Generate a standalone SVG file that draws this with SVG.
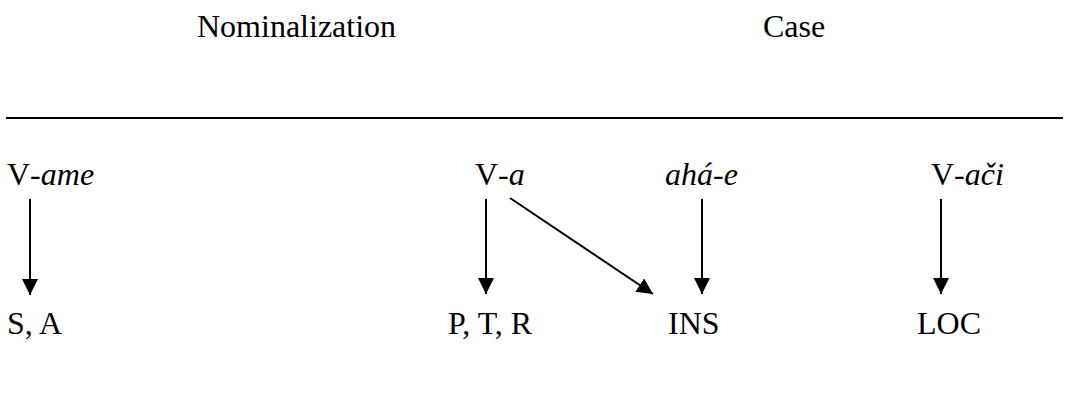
<svg xmlns="http://www.w3.org/2000/svg" width="1066" height="406" viewBox="0 0 1066 406">
  <style>
    text { font-family: "Liberation Serif", "Times New Roman", serif; font-size: 32px; fill: #000; }
    .it { font-style: italic; }
    .edge { stroke: #000; stroke-width: 2; fill: none; marker-end: url(#head); }
  </style>
  <defs>
    <marker id="head" viewBox="0 0 16 16" refX="16" refY="8" markerWidth="16" markerHeight="16" markerUnits="userSpaceOnUse" orient="auto">
      <path d="M0,0 L16,8 L0,16 Z" fill="#000"/>
    </marker>
  </defs>
  <rect width="1066" height="406" fill="#fff"/>

  <!-- column headings and divider -->
  <g id="headings">
    <text x="197" y="37">Nominalization</text>
    <text x="763" y="37">Case</text>
    <line x1="6" y1="118" x2="1063" y2="118" stroke="#000" stroke-width="2"/>
  </g>

  <!-- source forms -->
  <g id="n-vame"><text x="7" y="185">V<tspan class="it">-ame</tspan></text></g>
  <g id="n-va"><text x="475" y="185">V<tspan class="it">-a</tspan></text></g>
  <g id="n-ahae"><text class="it" x="665" y="185">ahá-e</text></g>
  <g id="n-vaci"><text x="931" y="185">V<tspan class="it">-ači</tspan></text></g>

  <!-- target roles / cases -->
  <g id="n-sa"><text x="7" y="334">S, A</text></g>
  <g id="n-ptr"><text x="448" y="334">P, T, R</text></g>
  <g id="n-ins"><text x="668" y="334">INS</text></g>
  <g id="n-loc"><text x="917" y="334">LOC</text></g>

  <!-- arrows -->
  <g id="connectors">
    <line class="edge" x1="30" y1="199" x2="30" y2="295"/>
    <line class="edge" x1="486" y1="199" x2="486" y2="294"/>
    <line class="edge" x1="510" y1="198" x2="653" y2="294"/>
    <line class="edge" x1="702" y1="199" x2="702" y2="294"/>
    <line class="edge" x1="941" y1="199" x2="941" y2="294"/>
  </g>
</svg>
